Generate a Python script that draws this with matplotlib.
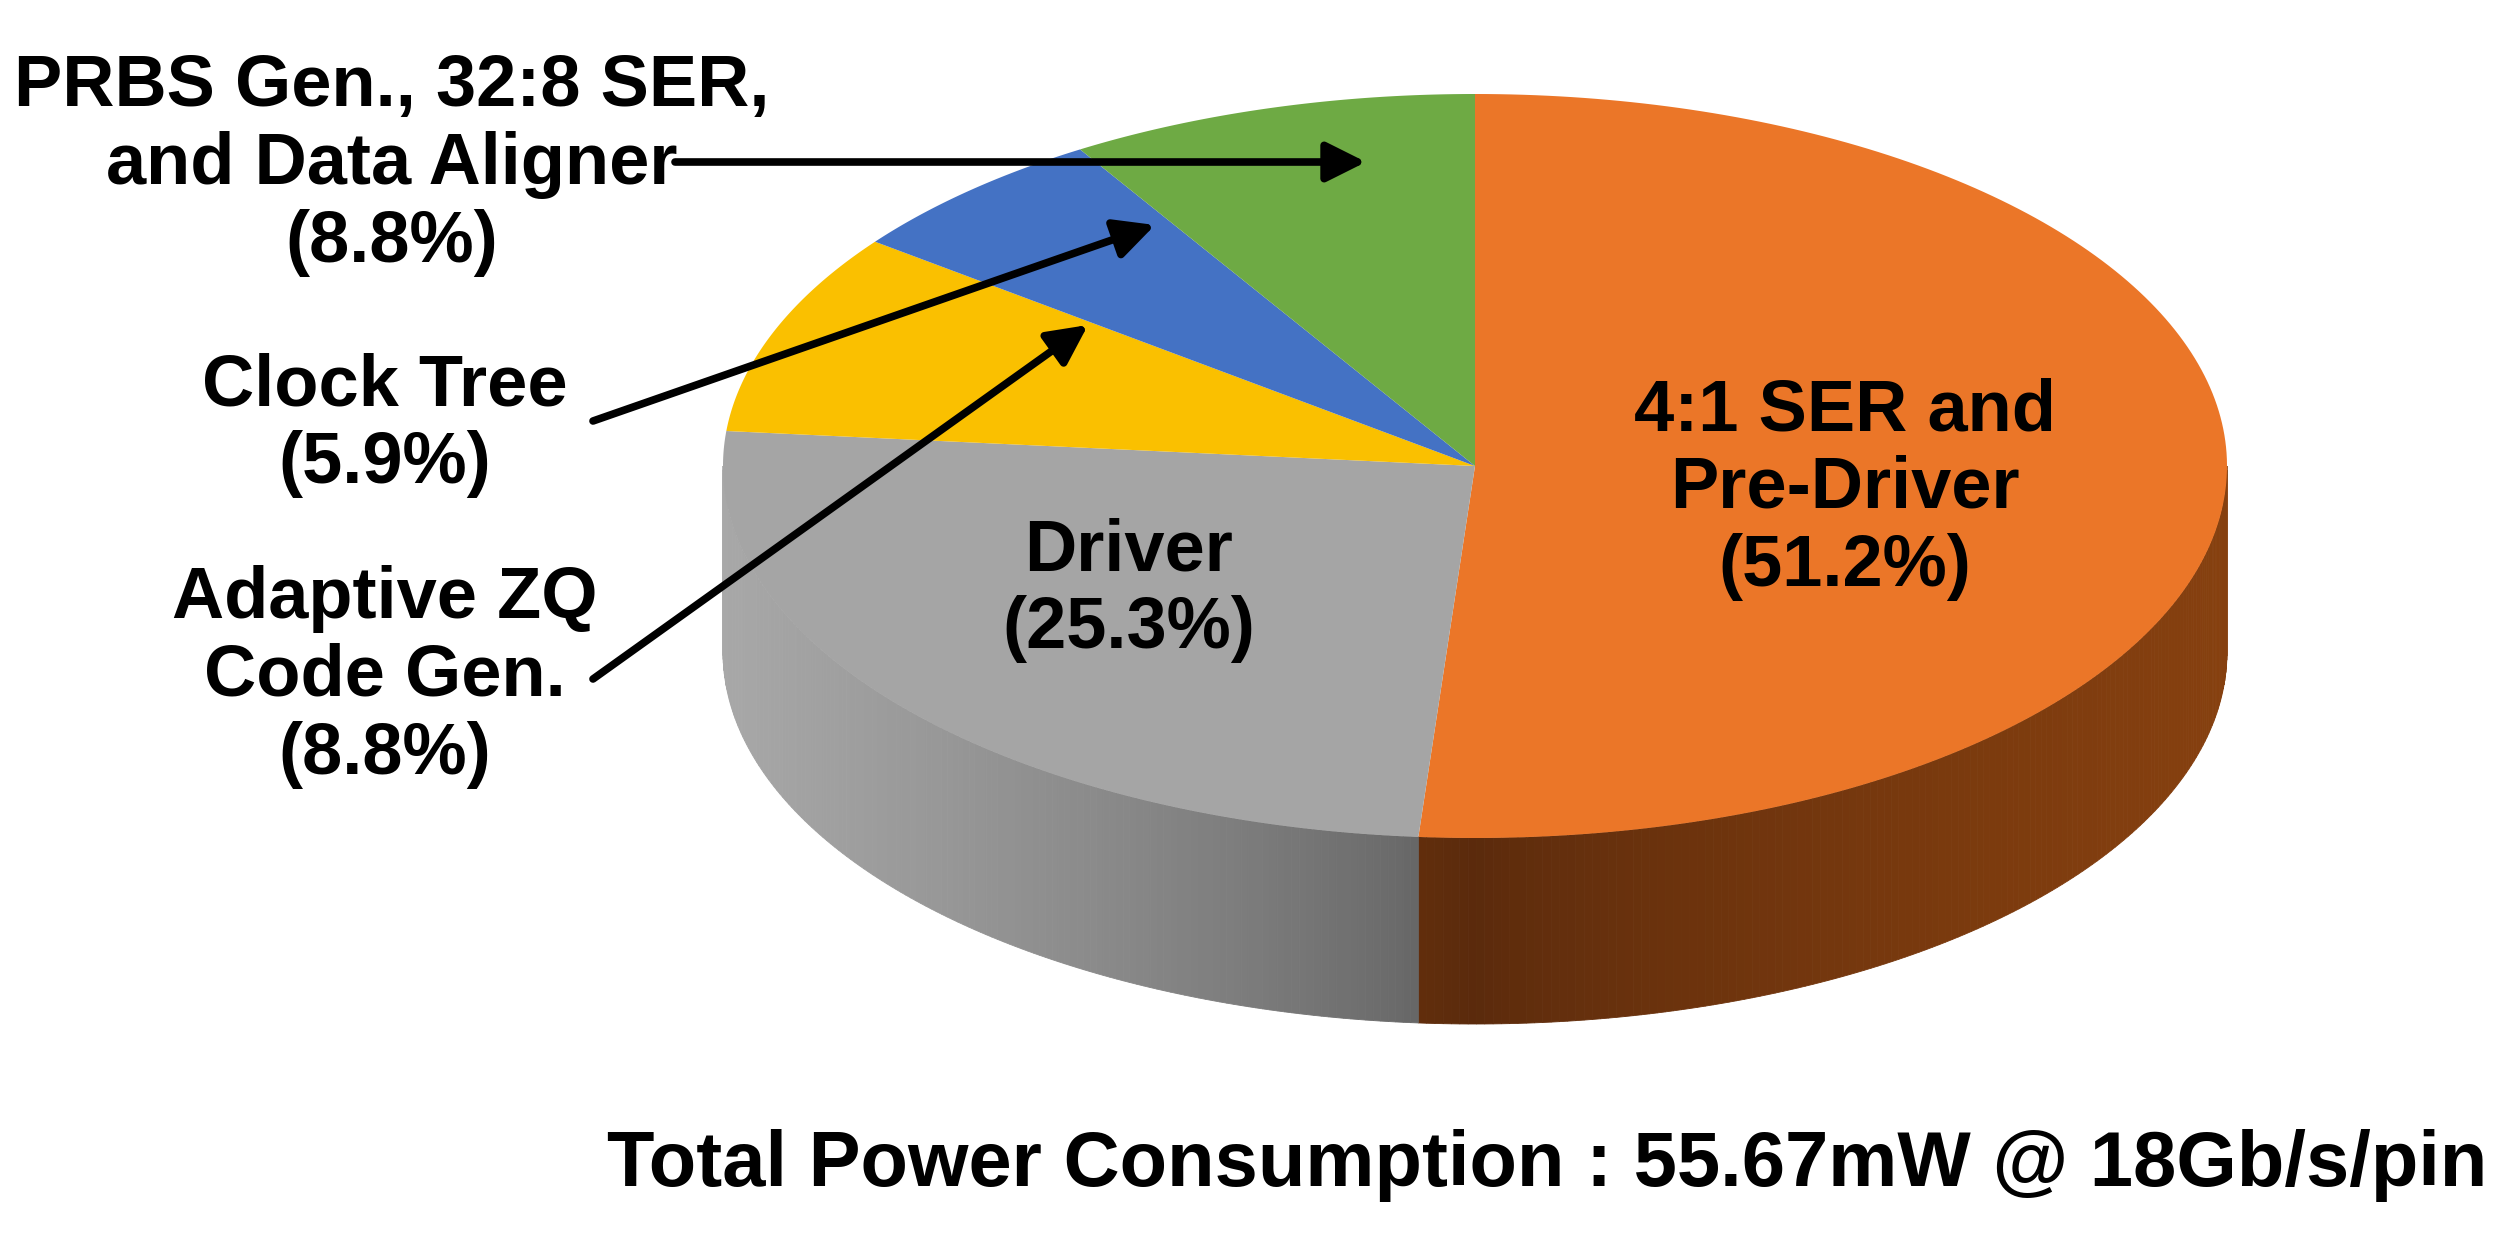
import numpy as np
import matplotlib.pyplot as plt
from matplotlib.patches import Polygon
from matplotlib.colors import to_rgb

labels = ["4:1 SER and\nPre-Driver", "Driver", "Adaptive ZQ\nCode Gen.", "Clock Tree",
          "PRBS Gen., 32:8 SER,\nand Data Aligner"]
shares = [51.2, 25.3, 8.8, 5.9, 8.8]
top_colors = ["#EB7628", "#A5A5A5", "#FAC000", "#4472C4", "#6EAA44"]
side_dark = ["#5a2a0c", "#5a5a5a", "#9a7400", "#29457a", "#446a2a"]
side_light = ["#86400f", "#a8a8a8", "#d9a300", "#3a60a8", "#5c8e3a"]

plt.rcParams["font.family"] = ["Liberation Sans Narrow", "Liberation Sans", "DejaVu Sans"]
fig = plt.figure(figsize=(25.08, 12.42), dpi=100)
ax = fig.add_axes([0, 0, 1, 1])
ax.set_xlim(0, 2508)
ax.set_ylim(1242, 0)
ax.axis("off")

cx, cy, rx, ry, depth = 1475, 466, 752, 372, 186

def pt(t, dy=0):
    return cx + rx * np.cos(t), cy - ry * np.sin(t) + dy

# angles: clockwise from top, orange first
fr = np.array(shares) / sum(shares)
ends = np.pi / 2 - 2 * np.pi * np.cumsum(fr)
starts = np.concatenate([[np.pi / 2], ends[:-1]])

# front side (visible when sin < 0)
for i in range(len(shares)):
    a0n, a1n = ends[i] % (2 * np.pi), starts[i] % (2 * np.pi)
    if a1n <= a0n:
        a1n += 2 * np.pi
    lo, hi = max(a0n, np.pi), min(a1n, 2 * np.pi)
    if lo >= hi:
        continue
    ts = np.linspace(lo, hi, 150)
    d, l = np.array(to_rgb(side_dark[i])), np.array(to_rgb(side_light[i]))
    for k in range(len(ts) - 1):
        tm = 0.5 * (ts[k] + ts[k + 1])
        w = abs(np.cos(tm))
        c = d + (l - d) * w ** 0.7
        x0, y0 = pt(ts[k]); x1, y1 = pt(ts[k + 1])
        ax.add_patch(Polygon([(x0, y0), (x1, y1), (x1, y1 + depth), (x0, y0 + depth)],
                             closed=True, facecolor=c, edgecolor=c, lw=0.6))

# top face
for i in range(len(shares)):
    ts = np.linspace(starts[i], ends[i], 200)
    xs, ys = pt(ts)
    poly = [(cx, cy)] + list(zip(xs, ys))
    ax.add_patch(Polygon(poly, closed=True, facecolor=top_colors[i], edgecolor="none"))

bold = dict(fontsize=52, fontweight="bold", ha="center", va="center", linespacing=1.18)
ax.text(1845, 489, f"{labels[0]}\n({shares[0]}%)", **bold)
ax.text(1129, 590, f"{labels[1]}\n({shares[1]}%)", **bold)
ax.text(385, 677, f"{labels[2]}\n({shares[2]}%)", **bold)
ax.text(385, 425, f"{labels[3]}\n({shares[3]}%)", **bold)
ax.text(392, 165, f"{labels[4]}\n({shares[4]}%)", **bold)

arrow = dict(arrowstyle="-|>", lw=5.5, color="black", mutation_scale=60, shrinkA=0, shrinkB=0)
ax.annotate("", xy=(1366, 162), xytext=(675, 162), arrowprops=arrow)
ax.annotate("", xy=(1155, 225), xytext=(593, 421), arrowprops=arrow)
ax.annotate("", xy=(1088, 325), xytext=(593, 679), arrowprops=arrow)

ax.text(2487, 1165, "Total Power Consumption : 55.67mW @ 18Gb/s/pin",
        fontsize=56, fontweight="bold", ha="right", va="center")

fig.savefig("out.png", dpi=100)
